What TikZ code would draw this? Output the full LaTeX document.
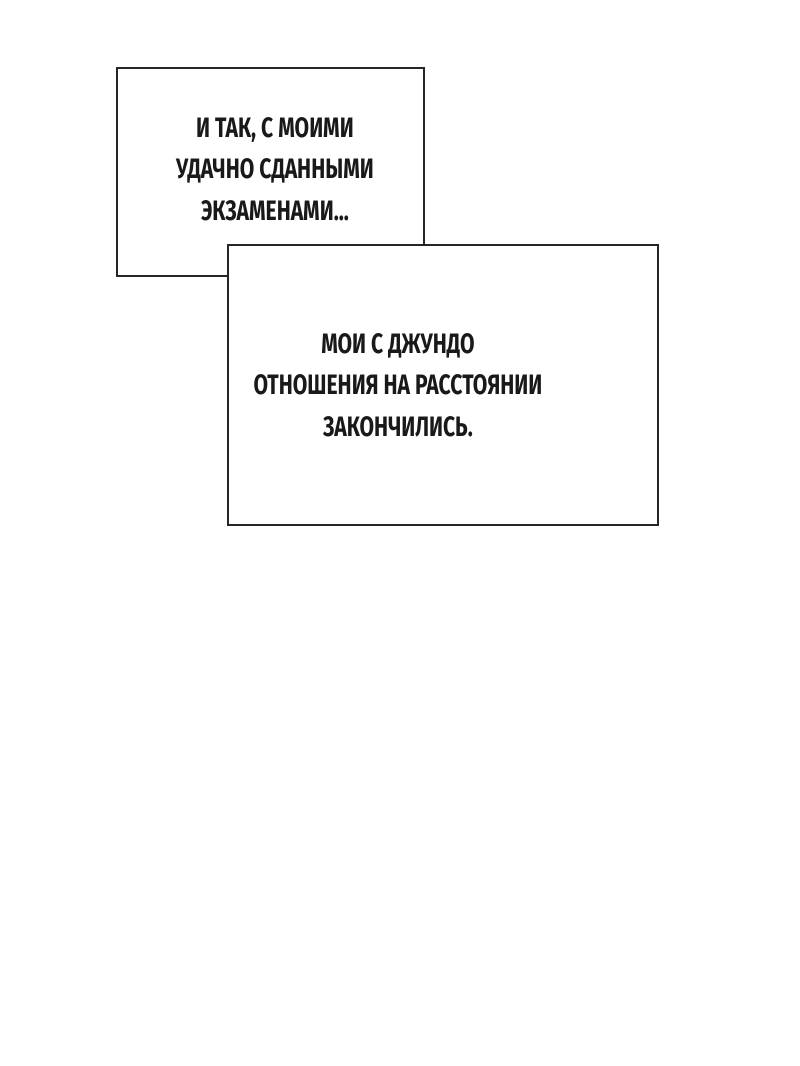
\documentclass[tikz,border=0pt]{standalone}
\usepackage{fontspec}
\setmainfont{Fira Sans}
\usetikzlibrary{positioning}
\begin{document}
\begin{tikzpicture}[
    panel/.style={draw=black!85, line width=1.4pt, fill=white},
    caption/.style={align=center, xscale=0.75, font=\bfseries\fontsize{16}{23.5}\selectfont, text=black!90}
]
  \useasboundingbox (0,0) rectangle (16,-21.32);

  % панели
  \draw[panel] (2.34,-1.36) rectangle (8.48,-5.52);
  \draw[panel] (4.56,-4.9) rectangle (13.16,-10.5);

  % подписи
  \node[caption] (first) at (5.5,-3.38) {И ТАК, С МОИМИ\\УДАЧНО СДАННЫМИ\\ЭКЗАМЕНАМИ...};
  \node[caption] (second) at (7.96,-7.7) {МОИ С ДЖУНДО\\ОТНОШЕНИЯ НА РАССТОЯНИИ\\ЗАКОНЧИЛИСЬ.};
\end{tikzpicture}
\end{document}
